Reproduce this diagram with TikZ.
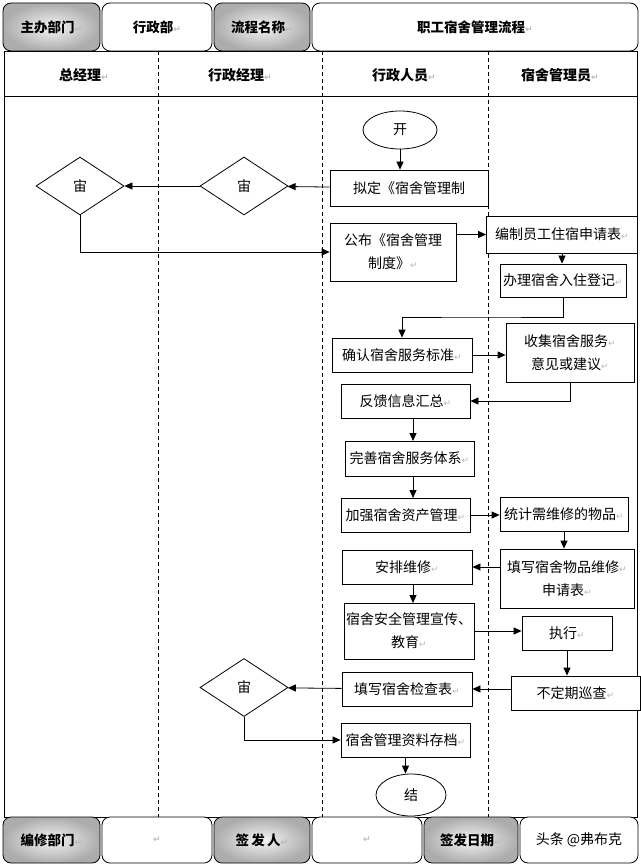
\documentclass[tikz,border=0pt]{standalone}
\usepackage{fontspec}
\setmainfont{Noto Sans CJK SC}
\newfontfamily\symfont{DejaVu Sans}
\usetikzlibrary{shapes.geometric,arrows.meta,backgrounds}

% Word paragraph mark after a text
\newcommand{\pmark}{{\symfont\fontsize{9}{9}\selectfont\color{gray!55}↵}}

\begin{document}
\begin{tikzpicture}[x=1pt,y=-1pt,line width=0.8pt,font=\fontsize{14}{23}\selectfont]
    % `proc' is used for the process boxes, `check' for the diamonds.
    % `graycell' and `whitecell' are the cells of the header and footer rows.
    \tikzstyle{proc} = [draw,fill=white,inner sep=0pt,align=center]
    \tikzstyle{check} = [draw,fill=white,diamond,minimum width=88pt,minimum height=58pt,inner sep=0pt]
    \tikzstyle{terminal} = [draw,fill=white,ellipse,inner sep=0pt]
    \tikzstyle{graycell} = [draw,rounded corners=8pt,inner color=gray!8,outer color=gray!65,font=\fontsize{13.5}{16}\selectfont\bfseries]
    \tikzstyle{whitecell} = [draw,rounded corners=8pt,fill=white,font=\fontsize{13.5}{16}\selectfont\bfseries]
    \tikzstyle{lane} = [dashed,line width=0.7pt,dash pattern=on 4pt off 3pt]
    \tikzstyle{flow} = [-{Triangle[length=8pt,width=7pt]}]
    %
    \useasboundingbox[fill=white] (0,0) rectangle (640,866);
    % Frame and lanes.
    \draw (4,51) rectangle (637,817);
    \draw (4,96) -- (637,96);
    \foreach \lx in {158,322,488} {
      \draw[lane] (\lx,51) -- (\lx,817);
    }
    \node (zjl) at (84,75) {\bfseries 总经理\pmark};
    \node (xzjl) at (240,75) {\bfseries 行政经理\pmark};
    \node (xzry) at (404,75) {\bfseries 行政人员\pmark};
    \node (ssgly) at (560,75) {\bfseries 宿舍管理员\pmark};
    %
    % Header row.
    \node[graycell,minimum width=97pt,minimum height=48pt] (zbbm) at (51.5,27) {主办部门\pmark};
    \node[whitecell,minimum width=110pt,minimum height=48pt] (xzb) at (157,27) {行政部\pmark};
    \node[graycell,minimum width=96pt,minimum height=48pt] (lcmc) at (262,27) {流程名称\pmark};
    \node[whitecell,minimum width=326pt,minimum height=48pt] (lcname) at (475,27) {职工宿舍管理流程\pmark};
    %
    % Flow nodes.
    \node[terminal,minimum width=74pt,minimum height=38pt] (kai) at (400,130) {开};
    \node[proc,minimum width=158pt,minimum height=36pt] (niding) at (409,188) {拟定《宿舍管理制};
    \node[check] (shen2) at (244,186) {宙};
    \node[check] (shen1) at (80,186) {宙};
    \node[proc,minimum width=126pt,minimum height=58pt] (gongbu) at (393,252) {公布《宿舍管理\\制度》\pmark};
    \node[proc,minimum width=151pt,minimum height=37pt] (bianzhi) at (562,234.5) {编制员工住宿申请表\pmark};
    \node[proc,minimum width=126pt,minimum height=33pt] (banli) at (563,280.5) {办理宿舍入住登记\pmark};
    \node[proc,minimum width=140pt,minimum height=34pt] (queren) at (402,355) {确认宿舍服务标准\pmark};
    \node[proc,minimum width=128pt,minimum height=59pt] (shouji) at (570,352.5) {收集宿舍服务\pmark\\意见或建议\pmark};
    \node[proc,minimum width=129pt,minimum height=34pt] (fankui) at (405.5,401) {反馈信息汇总\pmark};
    \node[proc,minimum width=129pt,minimum height=35pt] (wanshan) at (409.5,458.5) {完善宿舍服务体系\pmark};
    \node[proc,minimum width=129pt,minimum height=34pt] (jiaqiang) at (405.5,515) {加强宿舍资产管理\pmark};
    \node[proc,minimum width=128pt,minimum height=34pt] (tongji) at (564,514) {统计需维修的物品\pmark};
    \node[proc,minimum width=134pt,minimum height=59pt] (tianxie) at (567,578.5) {填写宿舍物品维修\pmark\\申请表\pmark};
    \node[proc,minimum width=130pt,minimum height=34pt] (anpai) at (407,567) {安排维修\pmark};
    \node[proc,minimum width=130pt,minimum height=56pt] (anquan) at (409,631) {宿舍安全管理宣传、\\教育\pmark};
    \node[proc,minimum width=90pt,minimum height=34pt] (zhixing) at (567,633) {执行\pmark};
    \node[proc,minimum width=129pt,minimum height=34pt] (xuncha) at (575.5,693) {不定期巡查\pmark};
    \node[proc,minimum width=130pt,minimum height=34pt] (jiancha) at (407,689) {填写宿舍检查表\pmark};
    \node[check] (shen3) at (244,687.5) {宙};
    \node[proc,minimum width=129pt,minimum height=34pt] (cundang) at (405.5,740) {宿舍管理资料存档\pmark};
    \node[terminal,minimum width=70pt,minimum height=42pt] (jie) at (411,795) {结};
    %
    % Connectors.
    \draw[flow] (kai) -- (kai |- niding.north);
    \draw[flow] (niding) -- (shen2);
    \draw[flow] (shen2) -- (shen1);
    \draw[flow] (shen1.south) |- (gongbu.west);
    \draw[flow] (gongbu.east |- bianzhi.west) -- (bianzhi.west);
    \draw[flow] (bianzhi.south) -- (bianzhi.south |- banli.north);
    \draw[flow] (banli.south) |- (480,317) -| (queren.north);
    \draw[flow] (queren.east) -- (queren.east -| shouji.west);
    \draw[flow] (shouji.south) |- (fankui.east);
    \draw[flow] (413,418) -- (413,441);
    \draw[flow] (413,476) -- (413,498);
    \draw[flow] (jiaqiang.east) -- (jiaqiang.east -| tongji.west);
    \draw[flow] (tongji.south) -- (tongji.south |- tianxie.north);
    \draw[flow] (anpai.east -| tianxie.west) -- (anpai.east);
    \draw[flow] (413,584) -- (413,603);
    \draw[flow] (anquan.east) -- (anquan.east -| zhixing.west);
    \draw[flow] (zhixing.south) -- (zhixing.south |- xuncha.north);
    \draw[flow] (jiancha.east -| xuncha.west) -- (jiancha.east);
    \draw[flow] (jiancha) -- (shen3);
    \draw[flow] (shen3.south) |- (cundang.west);
    \draw[flow] (cundang.south) -- (cundang.south |- jie.north);
    %
    % Footer row.
    \node[graycell,minimum width=97pt,minimum height=46pt] (bxbm) at (51.5,840) {编修部门\pmark};
    \node[whitecell,minimum width=110pt,minimum height=46pt] (bxbmval) at (157,840) {\pmark};
    \node[graycell,minimum width=96pt,minimum height=46pt] (qfr) at (262,840) {签\,发\,人\pmark};
    \node[whitecell,minimum width=110pt,minimum height=46pt] (qfrval) at (367,840) {\pmark};
    \node[graycell,minimum width=94pt,minimum height=46pt] (qfrq) at (471,840) {签发日期\pmark};
    \node[whitecell,minimum width=118pt,minimum height=46pt,font=\fontsize{14}{16}\selectfont] (qfrqval) at (579,840) {头条 @弗布克};
\end{tikzpicture}
\end{document}
